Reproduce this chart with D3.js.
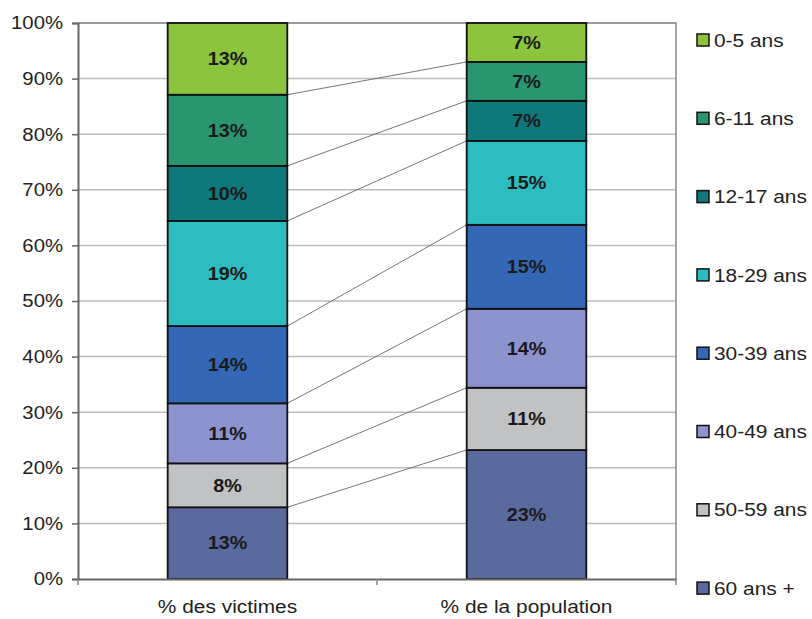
<!DOCTYPE html>
<html>
<head>
<meta charset="utf-8">
<script src="https://cdn.jsdelivr.net/npm/d3@7"></script>
<style>
  html, body { margin: 0; padding: 0; background: #fff; }
  svg { display: block; font-family: "Liberation Sans", Arial, sans-serif; }
</style>
</head>
<body>
<svg id="chart" width="812" height="619"></svg>
<script>
// Age groups, stacked from the bottom up
const ageGroups = ["60 ans +", "50-59 ans", "40-49 ans", "30-39 ans", "18-29 ans", "12-17 ans", "6-11 ans", "0-5 ans"];
const columns = ["% des victimes", "% de la population"];
const victimes = [12.9, 7.9, 10.8, 13.9, 18.9, 9.9, 12.8, 12.9];
const population = [23.2, 11.2, 14.2, 15.1, 15.1, 7.2, 7.0, 7.0];
const groupColors = ["#5a6a9f", "#c0c2c4", "#8c93cf", "#3468b6", "#2dbcc0", "#0f787a", "#2a9670", "#8cc43e"];
const yTicks = [0, 10, 20, 30, 40, 50, 60, 70, 80, 90, 100];

const svg = d3.select("#chart");
const margin = { left: 78, right: 136, top: 23, bottom: 40 };
const W = 812, H = 619;
const plotR = W - margin.right, plotB = H - margin.bottom;
const SX = 1.13; // horizontal widening of the lettering

const x = d3.scaleBand().domain(columns).range([margin.left, plotR]).paddingInner(0).paddingOuter(0);
const y = d3.scaleLinear().domain([0, 100]).range([plotB, margin.top]);
const barW = x.bandwidth() * 0.4;

// Place a text label at (px, py), widened horizontally
function label(parent, px, py, str, opts) {
  return parent.append("text")
    .attr("transform", `translate(${px},${py}) scale(${SX},1)`)
    .attr("text-anchor", opts.anchor || "start")
    .attr("dy", opts.dy || "0.36em")
    .attr("font-size", opts.size)
    .attr("font-weight", opts.weight || "normal")
    .attr("fill", opts.fill || "#222")
    .text(str);
}

// Gridlines
svg.append("g").selectAll("line").data(yTicks.filter(t => t > 0)).join("line")
  .attr("x1", margin.left).attr("x2", plotR)
  .attr("y1", d => y(d)).attr("y2", d => y(d))
  .attr("stroke", "#bdbdbd").attr("stroke-width", 1.5);

// Plot frame (top and right)
svg.append("path")
  .attr("d", `M${margin.left},${y(100)}H${plotR}V${plotB}`)
  .attr("fill", "none").attr("stroke", "#8a8a8a").attr("stroke-width", 1.5);

// Stacks
const series = [victimes, population];
const stacks = series.map(vals => {
  let acc = 0;
  return vals.map((v, i) => { const s = { i, v, y0: acc, y1: acc + v }; acc += v; return s; });
});

// Connector lines between segment boundaries
const conn = svg.append("g");
for (let i = 0; i < ageGroups.length - 1; i++) {
  conn.append("line")
    .attr("x1", x(columns[0]) + x.bandwidth() / 2 + barW / 2)
    .attr("y1", y(stacks[0][i].y1))
    .attr("x2", x(columns[1]) + x.bandwidth() / 2 - barW / 2)
    .attr("y2", y(stacks[1][i].y1))
    .attr("stroke", "#666").attr("stroke-width", 0.9);
}

stacks.forEach((stack, c) => {
  const cx = x(columns[c]) + x.bandwidth() / 2;
  const g = svg.append("g");
  g.selectAll("rect").data(stack).join("rect")
    .attr("x", cx - barW / 2).attr("width", barW)
    .attr("y", d => y(d.y1)).attr("height", d => y(d.y0) - y(d.y1))
    .attr("fill", d => groupColors[d.i])
    .attr("stroke", "#111").attr("stroke-width", 1.8);
  stack.forEach(d => {
    label(g, cx, y((d.y0 + d.y1) / 2), Math.round(d.v) + "%",
      { anchor: "middle", size: 17.5, weight: "bold", fill: "#1a1a1a" });
  });
});

// Y axis
const yAxis = svg.append("g").attr("transform", `translate(${margin.left},0)`)
  .call(d3.axisLeft(y).tickValues(yTicks).tickFormat("").tickSize(6));
yAxis.select(".domain").attr("stroke", "#666").attr("stroke-width", 2);
yAxis.selectAll(".tick line").attr("stroke", "#666").attr("stroke-width", 1.5);
yTicks.forEach(t => label(svg, 63, y(t), t + "%", { anchor: "end", size: 18 }));

// X axis
const xAxis = svg.append("g").attr("transform", `translate(0,${plotB})`)
  .call(d3.axisBottom(x).tickSize(0).tickFormat(""));
xAxis.select(".domain").attr("stroke", "#666").attr("stroke-width", 2);
columns.forEach(c => label(svg, x(c) + x.bandwidth() / 2, 613, c, { anchor: "middle", size: 18.5, dy: "0" }));
// category separators
svg.append("g").selectAll("line").data([margin.left, margin.left + x.bandwidth(), plotR]).join("line")
  .attr("x1", d => d).attr("x2", d => d).attr("y1", plotB).attr("y2", plotB + 6)
  .attr("stroke", "#888").attr("stroke-width", 1.5);

// Legend (top group first)
const legendItems = ageGroups.map((name, i) => ({ name, color: groupColors[i] })).reverse();
const legend = svg.append("g").attr("transform", "translate(697,40)");
legendItems.forEach((d, i) => {
  const gy = i * 78.3;
  legend.append("rect").attr("x", 0).attr("y", gy - 6).attr("width", 12).attr("height", 12)
    .attr("fill", d.color).attr("stroke", "#111").attr("stroke-width", 1.5);
  label(legend, 17, gy, d.name, { size: 18.5 });
});
</script>
</body>
</html>
